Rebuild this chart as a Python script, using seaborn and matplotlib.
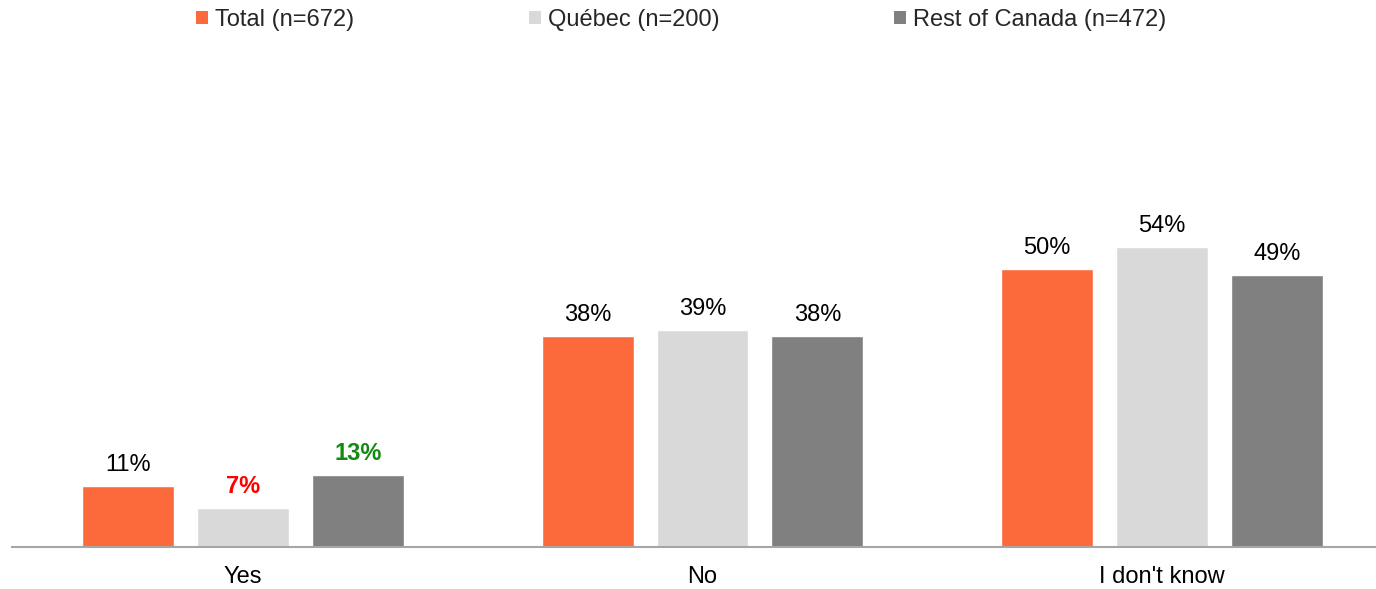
import matplotlib
matplotlib.use("Agg")
import matplotlib.pyplot as plt
from matplotlib.patches import Patch
import seaborn as sns
import pandas as pd

categories = ["Yes", "No", "I don't know"]
series = ["Total (n=672)", "Québec (n=200)", "Rest of Canada (n=472)"]
total = [11, 38, 50]
quebec = [7, 39, 54]
rest_of_canada = [13, 38, 49]
colors = ["#FC6A3C", "#D9D9D9", "#808080"]

# label styling: highlighted values in colour and bold
label_colors = {("Québec (n=200)", "Yes"): "#FF0000",
                ("Rest of Canada (n=472)", "Yes"): "#128A12"}

df = pd.DataFrame({
    "category": categories * 3,
    "group": [series[0]] * 3 + [series[1]] * 3 + [series[2]] * 3,
    "value": total + quebec + rest_of_canada,
})

sns.set_theme(style="white")
plt.rcParams["font.family"] = ["Liberation Sans", "DejaVu Sans"]

fig = plt.figure(figsize=(13.76, 5.89), dpi=100)
ax = fig.add_axes([12 / 1376, 42 / 589, 1 - 12 / 1376, 0.9 - 42 / 589])

sns.barplot(data=df, x="category", y="value", hue="group", order=categories,
            hue_order=series, palette=colors, width=0.75, gap=0.2,
            saturation=1, ax=ax, legend=False)

for container, name in zip(ax.containers, series):
    vals = df[df["group"] == name].set_index("category").loc[categories, "value"]
    labels = [f"{v}%" for v in vals]
    texts = ax.bar_label(container, labels=labels, padding=7, fontsize=17)
    for txt, cat in zip(texts, categories):
        c = label_colors.get((name, cat))
        if c:
            txt.set_color(c)
            txt.set_fontweight("bold")
        else:
            txt.set_color("black")

ax.set_xlim(-0.503, 2.466)
ax.set_ylim(0, 87.8)
ax.set_xlabel("")
ax.set_ylabel("")
ax.set_yticks([])
ax.tick_params(axis="x", length=0, labelsize=17, pad=14, colors="black")
for side in ["top", "right", "left"]:
    ax.spines[side].set_visible(False)
ax.spines["bottom"].set_color("#A6A6A6")
ax.spines["bottom"].set_linewidth(1.5)

handles = [Patch(facecolor=c, edgecolor="none") for c in colors]
fig.legend(handles, series, loc="center", bbox_to_anchor=(0.4953, 0.966),
           ncol=3, frameon=False, fontsize=17, handlelength=0.5,
           handleheight=0.5, handletextpad=0.3, columnspacing=7.4)

fig.savefig("out.png", dpi=100)
